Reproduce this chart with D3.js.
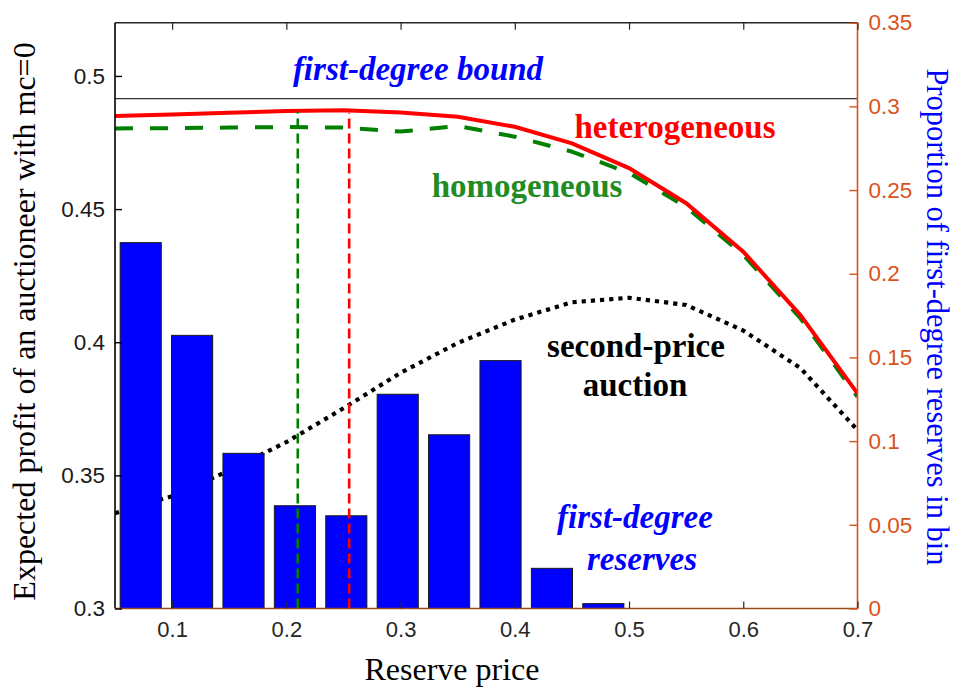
<!DOCTYPE html>
<html>
<head>
<meta charset="utf-8">
<script src="https://cdn.jsdelivr.net/npm/d3@7"></script>
<style>
  html, body { margin: 0; padding: 0; background: #fff; }
  svg { display: block; }
</style>
</head>
<body>
<svg id="chart" width="957" height="689"></svg>
<script>
// Reserve prices at which expected profit was evaluated
const reservePrices = [0.05, 0.10, 0.15, 0.20, 0.25, 0.30, 0.35, 0.40, 0.45, 0.50, 0.55, 0.60, 0.65, 0.70];
// Expected profit (left axis)
const heterogeneous = [0.4850, 0.4855, 0.4862, 0.4868, 0.4871, 0.4863, 0.4847, 0.4809, 0.4747, 0.4654, 0.4522, 0.4340, 0.4102, 0.3808];
const homogeneous   = [0.4803, 0.4804, 0.4806, 0.4808, 0.4806, 0.4791, 0.4812, 0.4772, 0.4716, 0.4636, 0.4508, 0.4328, 0.4090, 0.3795];
const secondPrice   = [0.3358, 0.3422, 0.3518, 0.3625, 0.3752, 0.3885, 0.3997, 0.4085, 0.4150, 0.4167, 0.4140, 0.4044, 0.3903, 0.3670];
const firstDegreeBound = 0.4915;

// Histogram of first-degree reserves (right axis)
const binCenters = [0.0725, 0.1175, 0.1625, 0.2075, 0.2525, 0.2975, 0.3425, 0.3875, 0.4325, 0.4775];
const binWidth = 0.045;
const binShares  = [0.2186, 0.1632, 0.0927, 0.0614, 0.0554, 0.1280, 0.1038, 0.1481, 0.0240, 0.0029];

// Optimal reserves (vertical markers)
const optimalReserves = [0.21, 0.255];
const optimalProfitTop = [0.4866, 0.4862];
const optimalColors = ["#008000", "#FF0000"];

// Tick labels
const xTicks = [0.1, 0.2, 0.3, 0.4, 0.5, 0.6, 0.7];
const yLeftTicks = [0.3, 0.35, 0.4, 0.45, 0.5];
const yRightTicks = [0, 0.05, 0.1, 0.15, 0.2, 0.25, 0.3, 0.35];

const svg = d3.select("#chart");
const plot = { left: 115, right: 857.5, top: 22.7, bottom: 608.5 };

const x = d3.scaleLinear().domain([0.05, 0.7]).range([plot.left, plot.right]);
const yL = d3.scaleLinear().domain([0.3, 0.52]).range([plot.bottom, plot.top]);
const yR = d3.scaleLinear().domain([0, 0.35]).range([plot.bottom, plot.top]);

const orange = "#D95319";
const serif = "'Liberation Serif', 'Times New Roman', serif";
const sans = "'Liberation Sans', Arial, Helvetica, sans-serif";

// clip region for data
svg.append("clipPath").attr("id", "plotClip")
  .append("rect").attr("x", plot.left).attr("y", plot.top)
  .attr("width", plot.right - plot.left).attr("height", plot.bottom - plot.top);

const data = svg.append("g").attr("clip-path", "url(#plotClip)");
const line = d3.line().x(d => x(d[0])).y(d => yL(d[1]));

// second-price auction (dotted, behind the bars)
data.append("path")
  .datum(reservePrices.map((p, i) => [p, secondPrice[i]]))
  .attr("d", line).attr("fill", "none")
  .attr("stroke", "#000").attr("stroke-width", 4.2)
  .attr("stroke-dasharray", "4.2,5");

// histogram bars
data.selectAll("rect.bin").data(binCenters).join("rect")
  .attr("class", "bin")
  .attr("x", c => x(c - binWidth * 0.4))
  .attr("width", c => x(c + binWidth * 0.4) - x(c - binWidth * 0.4))
  .attr("y", (c, i) => yR(binShares[i]))
  .attr("height", (c, i) => yR(0) - yR(binShares[i]))
  .attr("fill", "#0000FF").attr("stroke", "#1a1a1a").attr("stroke-width", 1);

// first-degree bound
data.append("line")
  .attr("x1", plot.left).attr("x2", plot.right)
  .attr("y1", yL(firstDegreeBound)).attr("y2", yL(firstDegreeBound))
  .attr("stroke", "#333").attr("stroke-width", 1.3);

// homogeneous (dashed green)
data.append("path")
  .datum(reservePrices.map((p, i) => [p, homogeneous[i]]))
  .attr("d", line).attr("fill", "none")
  .attr("stroke", "#008000").attr("stroke-width", 4)
  .attr("stroke-dasharray", "18,17");

// heterogeneous (solid red)
data.append("path")
  .datum(reservePrices.map((p, i) => [p, heterogeneous[i]]))
  .attr("d", line).attr("fill", "none")
  .attr("stroke", "#FF0000").attr("stroke-width", 4);

// optimal reserve markers
optimalReserves.forEach((r, i) => {
  data.append("line")
    .attr("x1", x(r)).attr("x2", x(r))
    .attr("y1", yL(0.3)).attr("y2", yL(optimalProfitTop[i]))
    .attr("stroke", optimalColors[i]).attr("stroke-width", 2.6)
    .attr("stroke-dasharray", "10,5");
});

// axes frame
const frame = svg.append("g");
frame.append("line").attr("x1", plot.left).attr("x2", plot.right)
  .attr("y1", plot.top).attr("y2", plot.top).attr("stroke", "#262626").attr("stroke-width", 1.4);
frame.append("line").attr("x1", plot.left).attr("x2", plot.left)
  .attr("y1", plot.top).attr("y2", plot.bottom).attr("stroke", "#000").attr("stroke-width", 1.6);
frame.append("line").attr("x1", plot.left).attr("x2", plot.right)
  .attr("y1", plot.bottom).attr("y2", plot.bottom).attr("stroke", "#9A4A1C").attr("stroke-width", 1.6);
frame.append("line").attr("x1", plot.right).attr("x2", plot.right)
  .attr("y1", plot.top).attr("y2", plot.bottom).attr("stroke", orange).attr("stroke-width", 1.6);

// bottom axis (ticks inward)
const xAxis = d3.axisBottom(x).tickValues(xTicks).tickSize(-7).tickPadding(13)
  .tickFormat(d3.format(".1f"));
const gx = svg.append("g").attr("transform", `translate(0,${plot.bottom})`).call(xAxis);
gx.select(".domain").remove();
gx.selectAll("line").attr("stroke", "#262626").attr("stroke-width", 1.2);
gx.selectAll("text").attr("font-family", sans).attr("font-size", 22).attr("fill", "#262626");

// top ticks
const gt = svg.append("g").attr("transform", `translate(0,${plot.top})`)
  .call(d3.axisTop(x).tickValues(xTicks).tickSize(-7).tickFormat(""));
gt.select(".domain").remove();
gt.selectAll("line").attr("stroke", "#262626").attr("stroke-width", 1.2);

// left axis
const gl = svg.append("g").attr("transform", `translate(${plot.left},0)`)
  .call(d3.axisLeft(yL).tickValues(yLeftTicks).tickSize(-7).tickPadding(10)
    .tickFormat(d => String(+d.toFixed(2))));
gl.select(".domain").remove();
gl.selectAll("line").attr("stroke", "#000").attr("stroke-width", 1.4);
gl.selectAll("text").attr("font-family", sans).attr("font-size", 22.5).attr("fill", "#1a1a1a");

// right axis
const gr = svg.append("g").attr("transform", `translate(${plot.right},0)`)
  .call(d3.axisRight(yR).tickValues(yRightTicks).tickSize(-8).tickPadding(11)
    .tickFormat(d => String(+d.toFixed(2))));
gr.select(".domain").remove();
gr.selectAll("line").attr("stroke", orange).attr("stroke-width", 1.4);
gr.selectAll("text").attr("font-family", sans).attr("font-size", 22.5).attr("fill", orange);

// axis titles
svg.append("text").attr("x", 452).attr("y", 680)
  .attr("text-anchor", "middle").attr("font-family", serif).attr("font-size", 32)
  .attr("fill", "#000").text("Reserve price");
svg.append("text").attr("transform", "translate(35,321.5) rotate(-90)")
  .attr("text-anchor", "middle").attr("font-family", serif).attr("font-size", 32)
  .attr("fill", "#000").text("Expected profit of an auctioneer with mc=0");
svg.append("text").attr("transform", "translate(927,317) rotate(90)")
  .attr("text-anchor", "middle").attr("font-family", serif).attr("font-size", 30.5)
  .attr("fill", "#0000FF").text("Proportion of first-degree reserves in bin");

// annotations
const notes = [
  { t: "first-degree bound", x: 418, y: 80, c: "#0000FF", it: true },
  { t: "heterogeneous", x: 675, y: 138, c: "#FF0000", it: false },
  { t: "homogeneous", x: 527, y: 197, c: "#228B22", it: false },
  { t: "second-price", x: 636, y: 357, c: "#000000", it: false },
  { t: "auction", x: 635, y: 396, c: "#000000", it: false },
  { t: "first-degree", x: 635, y: 528, c: "#0000FF", it: true },
  { t: "reserves", x: 642, y: 570, c: "#0000FF", it: true }
];
svg.selectAll("text.note").data(notes).join("text")
  .attr("class", "note")
  .attr("x", d => d.x).attr("y", d => d.y)
  .attr("text-anchor", "middle")
  .attr("font-family", serif).attr("font-size", 33).attr("font-weight", "bold")
  .attr("font-style", d => d.it ? "italic" : "normal")
  .attr("fill", d => d.c).text(d => d.t);
</script>
</body>
</html>
